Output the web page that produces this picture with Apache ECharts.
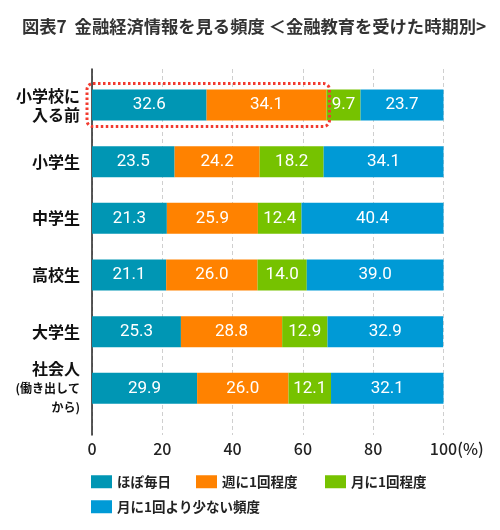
<!DOCTYPE html>
<html>
<head>
<meta charset="utf-8">
<script src="https://cdn.jsdelivr.net/npm/echarts@6/dist/echarts.min.js"></script>
<style>
html, body { margin: 0; padding: 0; background: #fff; }
#chart { width: 500px; height: 530px; }
</style>
</head>
<body>
<div id="chart"></div>
<script>
var categories = ['小学校に\n入る前', '小学生', '中学生', '高校生', '大学生', '社会人\n(働き出して\nから)'];
var seriesNames = ['ほぼ毎日', '週に1回程度', '月に1回程度', '月に1回より少ない頻度'];
var daily = [32.6, 23.5, 21.3, 21.1, 25.3, 29.9];
var weekly = [34.1, 24.2, 25.9, 26.0, 28.8, 26.0];
var monthly = [9.7, 18.2, 12.4, 14.0, 12.9, 12.1];
var less = [23.7, 34.1, 40.4, 39.0, 32.9, 32.1];

var colors = ['#0096b4', '#ff8200', '#76c200', '#009ad6'];
var FONT = '"Noto Sans CJK JP", "Noto Sans", sans-serif';

var myChart = echarts.init(document.getElementById('chart'));

function makeSeries(name, data, idx) {
    return {
        name: name,
        type: 'bar',
        stack: 'total',
        xAxisIndex: 1,
        yAxisIndex: 1,
        barWidth: 31,
        data: data,
        itemStyle: { color: colors[idx] },
        label: {
            show: true,
            position: 'inside',
            color: '#fff',
            fontSize: 17,
            fontFamily: 'Roboto, ' + FONT,
            formatter: function(p) { return p.value.toFixed(1); }
        }
    };
}

function legendAt(name, left, top) {
    return {
        data: [name],
        left: left,
        top: top,
        padding: 0,
        icon: 'rect',
        itemWidth: 21,
        itemHeight: 13,
        itemGap: 6,
        selectedMode: false,
        textStyle: { fontSize: 13.5, fontWeight: 'bold', color: '#222', fontFamily: FONT }
    };
}

myChart.setOption({
    animation: false,
    title: {
        text: '図表7  金融経済情報を見る頻度 ＜金融教育を受けた時期別>',
        left: 17,
        top: 13,
        textStyle: { fontSize: 17.3, fontWeight: 'bold', color: '#333', fontFamily: FONT }
    },
    legend: [
        legendAt(seriesNames[0], 91, 475),
        legendAt(seriesNames[1], 196, 475),
        legendAt(seriesNames[2], 325, 475),
        legendAt(seriesNames[3], 91, 500)
    ],
    grid: [
        { left: 92, right: 56.5, top: 69, bottom: 95 },
        { left: 92, right: 56.5, top: 76.7, bottom: 113.3 }
    ],
    xAxis: [{
        gridIndex: 0,
        type: 'value',
        min: 0,
        max: 100,
        interval: 20,
        axisLine: { show: false },
        axisTick: { show: false },
        splitLine: { show: true, lineStyle: { color: '#cfcfcf', type: [4, 3], width: 1 } },
        axisLabel: {
            margin: 6,
            fontSize: 16,
            fontWeight: 500,
            color: '#222',
            fontFamily: FONT,
            formatter: function(v) {
                if (v === 100) return '{h|(%)}100{u|(%)}';
                return v;
            },
            rich: {
                h: { fontSize: 16, fontWeight: 500, color: 'rgba(0,0,0,0)', fontFamily: FONT },
                u: { fontSize: 16, fontWeight: 500, color: '#222', fontFamily: FONT }
            }
        }
    }, {
        gridIndex: 1,
        type: 'value',
        min: 0,
        max: 100,
        show: false
    }],
    yAxis: [{
        gridIndex: 0,
        type: 'value',
        axisLine: { show: true, lineStyle: { color: '#222', width: 1.5 } },
        axisTick: { show: false },
        axisLabel: { show: false },
        splitLine: { show: false }
    }, {
        gridIndex: 1,
        type: 'category',
        inverse: true,
        data: categories,
        axisLine: { show: false },
        axisTick: { show: false },
        axisLabel: {
            margin: 12,
            align: 'right',
            formatter: function(v) {
                return v.split('\n').map(function(line) {
                    return /[()]/.test(line) ? '{s|' + line + '}' : '{b|' + line + '}';
                }).join('\n');
            },
            rich: {
                b: { fontSize: 16, fontWeight: 'bold', color: '#111', lineHeight: 19, fontFamily: FONT, align: 'right' },
                s: { fontSize: 12, fontWeight: 'bold', color: '#111', lineHeight: 19, fontFamily: FONT, align: 'right' }
            }
        }
    }],
    series: [
        makeSeries(seriesNames[0], daily, 0),
        makeSeries(seriesNames[1], weekly, 1),
        makeSeries(seriesNames[2], monthly, 2),
        makeSeries(seriesNames[3], less, 3)
    ]
});

// dotted highlight round the first two segments of the first bar
var finder = { xAxisIndex: 1, yAxisIndex: 1 };
var pLeft = myChart.convertToPixel(finder, [0, 0]);
var pRight = myChart.convertToPixel(finder, [daily[0] + weekly[0], 0]);
myChart.setOption({
    graphic: [{
        type: 'rect',
        shape: { x: pLeft[0] - 5, y: pLeft[1] - 21.5, width: pRight[0] - pLeft[0] + 8, height: 43, r: 6 },
        style: { fill: 'none', stroke: '#f23a2e', lineWidth: 3, lineDash: [2.5, 2.5] },
        z: 100
    }]
});
</script>
</body>
</html>
